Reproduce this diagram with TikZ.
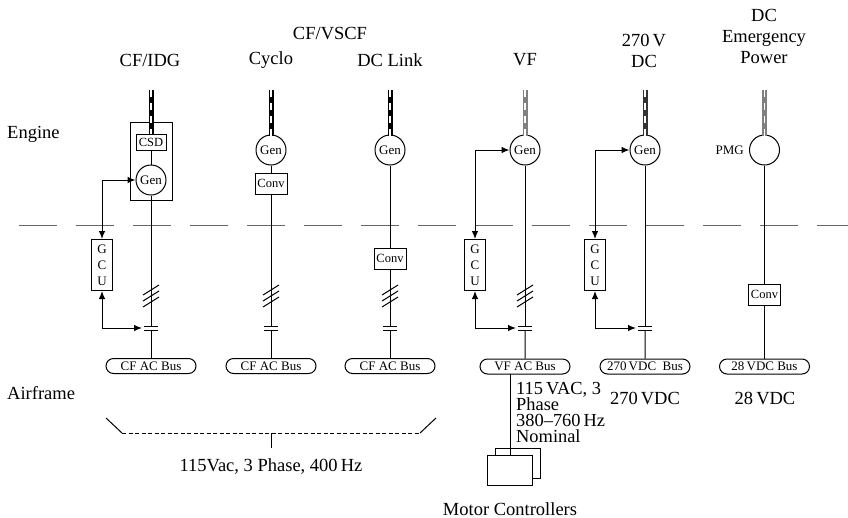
\documentclass[tikz,border=0pt]{standalone}
\usepackage{fontspec}
\setmainfont{Liberation Serif}
\usetikzlibrary{arrows.meta, shapes.misc, positioning}

\begin{document}
\begin{tikzpicture}[
  x=1pt, y=-1pt,
  every node/.style={align=center, inner sep=0pt},
  titlelabel/.style={font=\fontsize{18.5}{21}\selectfont},
  genbox/.style={draw, circle, fill=white, line width=1pt, minimum size=30pt, font=\fontsize{13}{14}\selectfont},
  convbox/.style={draw, fill=white, line width=1pt, minimum width=32pt, minimum height=21pt, font=\fontsize{12.5}{14}\selectfont},
  gcubox/.style={draw, fill=white, line width=1pt, minimum width=21pt, minimum height=51pt, font=\fontsize{13}{16}\selectfont},
  busbox/.style={draw, rounded rectangle, fill=white, line width=1pt, minimum width=90pt, minimum height=15pt, font=\fontsize{13}{14}\selectfont},
  wire/.style={line width=1pt},
  arr/.style={{Latex[length=8pt,width=6.5pt]}-{Latex[length=8pt,width=6.5pt]}, line width=1pt},
  shaftblack/.style={line width=5pt},
  shaftwhite/.style={white, line width=1.2pt, dash pattern=on 7pt off 6pt},
]

\useasboundingbox (0,0) rectangle (848,517);

%% Headings
\node[titlelabel] (hcvscf) at (330,34) {CF/VSCF};
\node[titlelabel] (hidg) at (150,60) {CF/IDG};
\node[titlelabel] (hcyclo) at (271,60) {Cyclo};
\node[titlelabel] (hlink) at (390,60) {DC Link};
\node[titlelabel] (hvf) at (525,60) {VF};
\node[titlelabel] (hdc) at (644,51) {270\,V\\DC};
\node[titlelabel] (hemer) at (764,36) {DC\\Emergency\\Power};
\node[titlelabel, anchor=west] (engine) at (7,134) {Engine};
\node[titlelabel, anchor=west] (airframe) at (7,393) {Airframe};

%% Engine / airframe boundary
\coordinate (bl) at (19,225);
\coordinate (br) at (848,225);
\draw[gray!80!black, line width=1pt, dash pattern=on 38pt off 19pt] (bl) -- (br);

%% Generators
\node[draw, wire, minimum width=42pt, minimum height=78pt] (idg) at (151,161) {};
\node[convbox, minimum width=30pt, minimum height=16pt] (csd) at (151,142) {CSD};
\node[genbox] (g1) at (151,180) {Gen};
\node[genbox] (g2) at (271,150) {Gen};
\node[genbox] (g3) at (390,150) {Gen};
\node[genbox] (g4) at (525,150) {Gen};
\node[genbox] (g5) at (645,150) {Gen};
\node[genbox] (g6) at (764.5,150) {};
\node[font=\fontsize{13}{14}\selectfont, left=5pt of g6] (pmg) {PMG};

%% Converters
\node[convbox] (c2) at (271,183.5) {Conv};
\node[convbox] (c3) at (390,258.5) {Conv};
\node[convbox] (c6) at (764.5,294.5) {Conv};

%% Control units
\node[gcubox] (u1) at (102,265) {G\\C\\U};
\node[gcubox] (u4) at (475,265) {G\\C\\U};
\node[gcubox] (u5) at (595,265) {G\\C\\U};

%% Buses
\node[busbox] (b1) at (151,366) {CF AC Bus};
\node[busbox] (b2) at (271,366) {CF AC Bus};
\node[busbox] (b3) at (390,366) {CF AC Bus};
\node[busbox] (b4) at (525,366.5) {VF AC Bus};
\node[busbox] (b5) at (645,366.5) {270\,VDC\ \ Bus};
\node[busbox] (b6) at (764.5,366.5) {28\,VDC Bus};

%% Shafts
\foreach \nd/\xx/\topy/\shaftcol in {csd/151/134/black, g2/271/136/black, g3/390/136/black, g4/525/136/gray, g5/645/136/black!80, g6/764.5/136/gray}{
  \coordinate (s\nd) at (\xx,90);
  \coordinate (e\nd) at (\xx,\topy);
  \draw[shaftblack, \shaftcol] (s\nd) -- (e\nd);
  \draw[shaftwhite] (s\nd) -- (e\nd);
}

%% Feeders with contactors
\foreach \gn/\bn/\xx in {g1/b1/151, c2/b2/271, c3/b3/390, g4/b4/525, g5/b5/645}{
  \coordinate (k\bn) at (\xx,326);
  \coordinate (m\bn) at (\xx,330);
  \draw[wire] (\gn) -- (k\bn);
  \draw[wire] (m\bn) -- (\bn);
  \draw[wire] ([xshift=-7pt]k\bn) -- ([xshift=7pt]k\bn);
  \draw[wire] ([xshift=-7pt]m\bn) -- ([xshift=7pt]m\bn);
}
\draw[wire] (csd) -- (g1);
\draw[wire] (g2) -- (c2);
\draw[wire] (g3) -- (c3);
\draw[wire] (g6) -- (c6);
\draw[wire] (c6) -- (b6);

%% Three phase marks
\foreach \bn in {b1,b2,b3,b4}{
  \foreach \dy in {31,25,19}{
    \draw[wire] ([xshift=-8pt,yshift=\dy pt]k\bn) -- ++(16,-10);
  }
}

%% Control arrows
\foreach \un/\gn/\bn in {u1/g1/b1, u4/g4/b4, u5/g5/b5}{
  \draw[arr] (\un.north) |- (\gn.west);
  \draw[arr] (\un.south) |- ([xshift=-9pt,yshift=-2pt]k\bn);
}

%% Voltage labels
\node[font=\fontsize{18.4}{16}\selectfont, align=left, anchor=north west] (vfnote) at (516,382) {115\,VAC, 3\\Phase\\380--760\,Hz\\Nominal};
\node[titlelabel] (dc270) at (645,398) {270\,VDC};
\node[titlelabel] (dc28) at (765,398) {28\,VDC};

%% Motor controllers
\node[draw, wire, minimum width=45pt, minimum height=30pt] (m2) at (517.5,463) {};
\node[draw, wire, fill=white, minimum width=45pt, minimum height=30pt] (m1) at (509.5,470) {};
\coordinate (vfout) at (510,374);
\draw[wire] (vfout) -- (m1.north -| vfout);
\node[titlelabel] (mlabel) at (510,509) {Motor Controllers};

%% Common output bracket
\coordinate (tl) at (106,418);
\coordinate (al) at (122,433);
\coordinate (ar) at (420,433);
\coordinate (tr) at (436,418);
\coordinate (tick) at (271,448);
\draw[wire] (tl) -- (al);
\draw[wire] (ar) -- (tr);
\draw[wire, dash pattern=on 4pt off 2.5pt] (al) -- (ar);
\draw[wire] (tick |- al) -- (tick);
\node[titlelabel] (note400) at (271,466) {115Vac, 3 Phase, 400\,Hz};

\end{tikzpicture}
\end{document}
